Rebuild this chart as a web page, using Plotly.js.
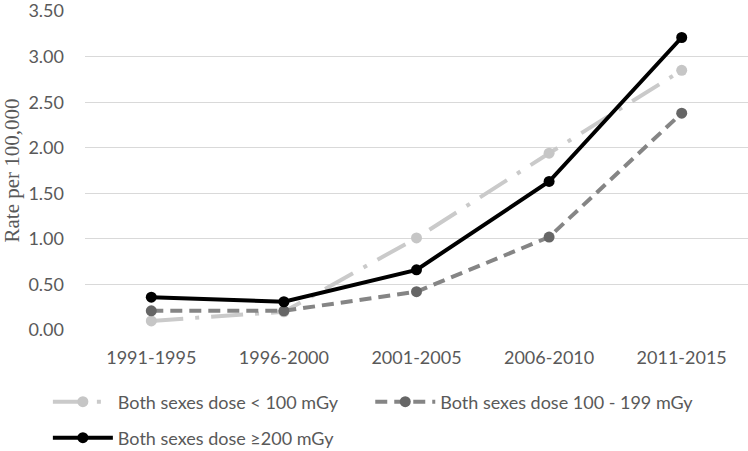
<!DOCTYPE html>
<html>
<head>
<meta charset="utf-8">
<script src="https://cdn.plot.ly/plotly-3.0.1.min.js"></script>
<style>html,body{margin:0;padding:0;background:#fff;}#chart{width:748px;height:451px;}</style>
</head>
<body>
<div id="chart"></div>
<script>
const periods = ["1991-1995", "1996-2000", "2001-2005", "2006-2010", "2011-2015"];
const doseLow = [0.10, 0.20, 1.01, 1.94, 2.85];
const doseMid = [0.21, 0.21, 0.42, 1.02, 2.38];
const doseHigh = [0.36, 0.31, 0.66, 1.63, 3.21];
const seriesNames = ["Both sexes dose < 100 mGy", "Both sexes dose 100 - 199 mGy", "Both sexes dose \u2265200 mGy"];
const yTicks = [0, 0.5, 1, 1.5, 2, 2.5, 3, 3.5];
const yTickText = ["0.00", "0.50", "1.00", "1.50", "2.00", "2.50", "3.00", "3.50"];

const FONT = "Lato, 'Open Sans', sans-serif";

const traces = [
  {x: periods, y: doseLow, name: seriesNames[0], type: "scatter", mode: "lines+markers",
   line: {color: "#cacaca", width: 4, dash: "32px,12px,4px,12px"},
   marker: {color: "#c6c6c6", size: 11}, legend: "legend"},
  {x: periods, y: doseMid, name: seriesNames[1], type: "scatter", mode: "lines+markers",
   line: {color: "#858585", width: 4, dash: "12px,7px"},
   marker: {color: "#666666", size: 11}, legend: "legend2"},
  {x: periods, y: doseHigh, name: seriesNames[2], type: "scatter", mode: "lines+markers",
   line: {color: "#000000", width: 4},
   marker: {color: "#000000", size: 11}, legend: "legend3"}
];

const legendCommon = {
  orientation: "h", xref: "container", yref: "container", xanchor: "left", yanchor: "middle",
  font: {family: FONT, size: 18, color: "#595959"}, itemwidth: 60, bgcolor: "rgba(0,0,0,0)",
  itemclick: false
};

const layout = {
  width: 748, height: 451,
  margin: {l: 85, r: 0, t: 11, b: 121},
  paper_bgcolor: "#ffffff", plot_bgcolor: "#ffffff",
  font: {family: FONT, size: 18, color: "#595959"},
  showlegend: true,
  xaxis: {
    type: "category", range: [-0.5, 4.5], showgrid: false, zeroline: false, showline: false, ticks: "",
    tickfont: {family: FONT, size: 18, color: "#595959"}, ticklabelstandoff: 15,
    fixedrange: true
  },
  yaxis: {
    range: [0, 3.501], tickvals: yTicks, ticktext: yTickText, showgrid: true,
    gridcolor: "#d9d9d9", gridwidth: 1, zeroline: false, showline: false, ticks: "",
    tickfont: {family: FONT, size: 18, color: "#595959"}, ticklabelstandoff: 20,
    ticklabeloverflow: "allow",
    title: {text: "Rate per 100,000", font: {family: "'Liberation Serif', 'Times New Roman', serif", size: 21, color: "#595959"}, standoff: 4},
    fixedrange: true
  },
  legend: Object.assign({}, legendCommon, {x: 0.064, y: 1 - 402 / 451}),
  legend2: Object.assign({}, legendCommon, {x: 0.495, y: 1 - 402 / 451}),
  legend3: Object.assign({}, legendCommon, {x: 0.064, y: 1 - 438 / 451})
};

Plotly.newPlot("chart", traces, layout, {displayModeBar: false, staticPlot: true});
</script>
</body>
</html>
